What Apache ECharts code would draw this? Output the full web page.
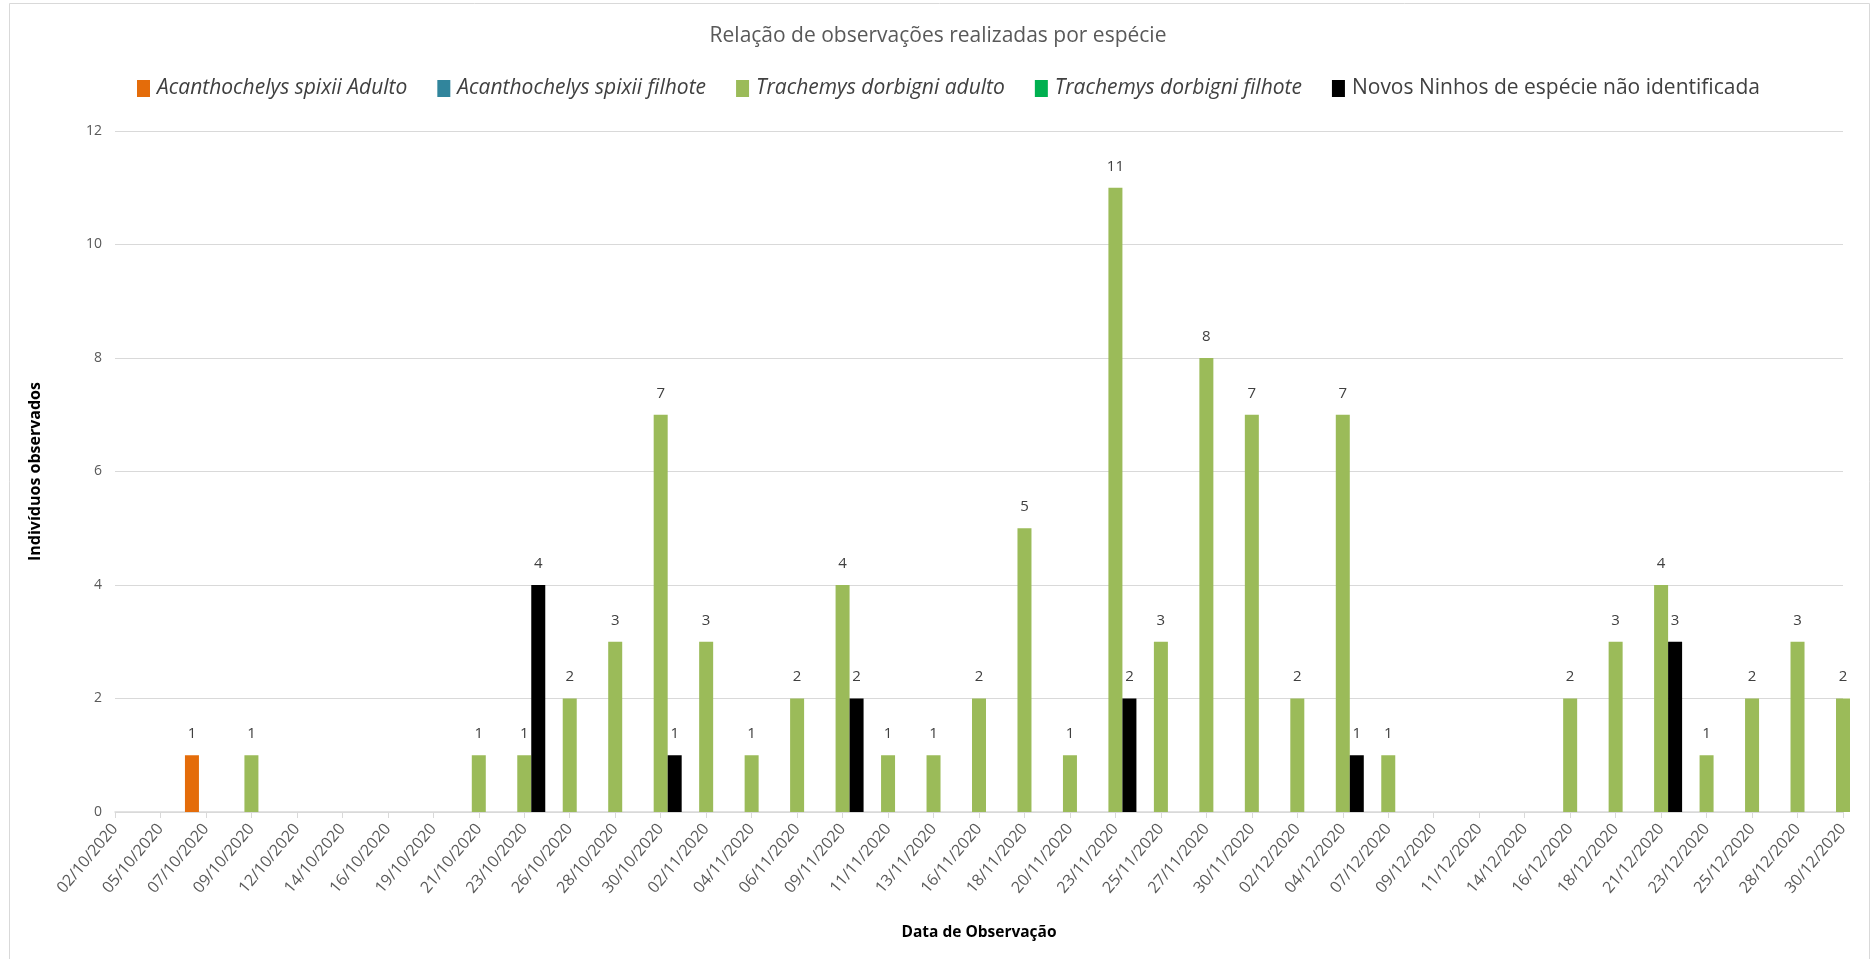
<!DOCTYPE html>
<html>
<head>
<meta charset="utf-8">
<script src="https://cdn.jsdelivr.net/npm/echarts@6/dist/echarts.min.js"></script>
<style>html,body{margin:0;padding:0;background:#fff;}#c{width:1876px;height:959px;}</style>
</head>
<body>
<div id="c"></div>
<script>
const datas = ['02/10/2020','05/10/2020','07/10/2020','09/10/2020','12/10/2020','14/10/2020','16/10/2020','19/10/2020','21/10/2020','23/10/2020','26/10/2020','28/10/2020','30/10/2020','02/11/2020','04/11/2020','06/11/2020','09/11/2020','11/11/2020','13/11/2020','16/11/2020','18/11/2020','20/11/2020','23/11/2020','25/11/2020','27/11/2020','30/11/2020','02/12/2020','04/12/2020','07/12/2020','09/12/2020','11/12/2020','14/12/2020','16/12/2020','18/12/2020','21/12/2020','23/12/2020','25/12/2020','28/12/2020','30/12/2020'];
const acanthoAdulto = [null,null,1,null,null,null,null,null,null,null,null,null,null,null,null,null,null,null,null,null,null,null,null,null,null,null,null,null,null,null,null,null,null,null,null,null,null,null,null];
const acanthoFilhote = [];
const trachemysAdulto = [null,null,null,1,null,null,null,null,1,1,2,3,7,3,1,2,4,1,1,2,5,1,11,3,8,7,2,7,1,null,null,null,2,3,4,1,2,3,2];
const trachemysFilhote = [];
const novosNinhos = [null,null,null,null,null,null,null,null,null,4,null,null,1,null,null,null,2,null,null,null,null,null,2,null,null,null,null,1,null,null,null,null,null,null,3,null,null,null,null];
const yTicks = {min:0, max:12, interval:2};

const seriesNames = ['Acanthochelys spixii Adulto','Acanthochelys spixii filhote','Trachemys dorbigni adulto','Trachemys dorbigni filhote','Novos Ninhos de espécie não identificada'];
const colors = ['#E46C0A','#31859C','#9BBB59','#00B050','#000000'];
const values = [acanthoAdulto, acanthoFilhote, trachemysAdulto, trachemysFilhote, novosNinhos];
const stacks = ['a','a','b','b','c'];

const chart = echarts.init(document.getElementById('c'));
const FONT = '"Open Sans", sans-serif';
chart.setOption({
  animation:false,
  backgroundColor:'#fff',
  graphic:[{type:'rect', shape:{x:9.5,y:3.5,width:1860,height:1000}, style:{fill:'none', stroke:'#d9d9d9', lineWidth:1}, z:-1}],
  title:{text:'Relação de observações realizadas por espécie', left:'center', top:21,
    textStyle:{color:'#595959', fontSize:21, fontWeight:'normal', fontFamily:FONT}},
  legend:{left:132, top:73, itemWidth:13, itemHeight:17, itemGap:30,
    icon:'rect',
    textStyle:{color:'#404040', fontSize:21, fontFamily:FONT, padding:[0,0,0,2]},
    data: seriesNames.map((n,i)=>({name:n, textStyle:{fontStyle: i<4?'italic':'normal'}}))},
  grid:{left:115, right:33, top:131, bottom:147},
  xAxis:{type:'category', data:datas, boundaryGap:false,
    name:'Data de Observação', nameLocation:'middle', nameGap:113,
    nameTextStyle:{color:'#000', fontWeight:'bold', fontSize:15.5, fontFamily:FONT},
    axisLine:{lineStyle:{color:'#d9d9d9', width:1.5}},
    axisTick:{show:true, length:6, interval:0, lineStyle:{color:'#d9d9d9'}},
    axisLabel:{interval:0, rotate:50, margin:14, color:'#595959', fontSize:16, fontFamily:FONT},
    splitLine:{show:false}},
  yAxis:{type:'value', min:yTicks.min, max:yTicks.max, interval:yTicks.interval,
    name:'Indivíduos observados', nameLocation:'middle', nameGap:72,
    nameTextStyle:{color:'#000', fontWeight:'bold', fontSize:16, fontFamily:FONT},
    axisLine:{show:false}, axisTick:{show:false},
    axisLabel:{color:'#595959', fontSize:14, margin:13, fontFamily:FONT},
    splitLine:{lineStyle:{color:'#d9d9d9', width:1}}},
  series: seriesNames.map((n,i)=>({
    name:n, type:'bar', stack:stacks[i], data:values[i], barWidth:14, barGap:'0%',
    itemStyle:{color:colors[i]},
    label:{show:true, position:'top', distance:14, color:'#404040', fontSize:15, fontFamily:FONT}
  }))
});
</script>
</body>
</html>
